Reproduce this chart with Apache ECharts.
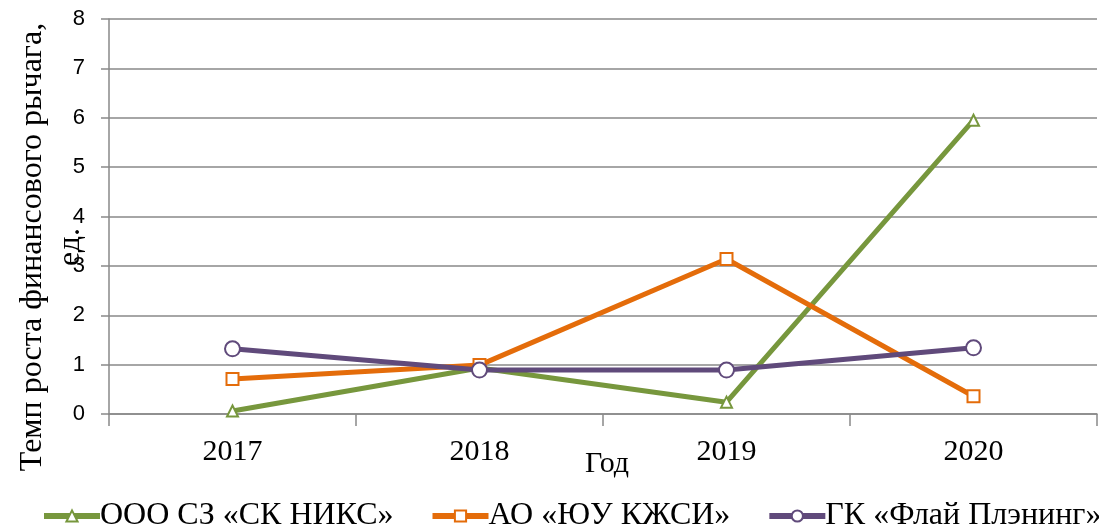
<!DOCTYPE html>
<html>
<head>
<meta charset="utf-8">
<script src="https://cdn.jsdelivr.net/npm/echarts@6/dist/echarts.min.js"></script>
<style>html,body{margin:0;padding:0;background:#fff}#c{width:1099px;height:529px}</style>
</head>
<body>
<div id="c"></div>
<script>
const years = ['2017', '2018', '2019', '2020'];
const seriesNames = ['ООО СЗ «СК НИКС»', 'АО «ЮУ КЖСИ»', 'ГК «Флай Плэнинг»'];
const niksValues = [0.06, 0.93, 0.24, 5.95];
const kzhsiValues = [0.71, 0.99, 3.14, 0.36];
const flyValues = [1.32, 0.89, 0.89, 1.34];
const yTicks = [0, 1, 2, 3, 4, 5, 6, 7, 8];
const yAxisTitle = 'Темп роста финансового рычага,\nед.';
const xAxisTitle = 'Год';

const serif = '"Liberation Serif", "Times New Roman", serif';
const sans = '"Liberation Sans", "Open Sans", sans-serif';
const colors = ['#77973D', '#E46C0A', '#604A7B'];
const symbols = ['triangle', 'rect', 'circle'];
const symbolSizes = [11, 12, 15];
const dataSets = [niksValues, kzhsiValues, flyValues];

const chart = echarts.init(document.getElementById('c'));
chart.setOption({
  animation: false,
  grid: { left: 109, right: 2, top: 19, bottom: 115, containLabel: false, outerBoundsMode: 'none' },
  graphic: [{
    type: 'text',
    x: 52,
    y: 247,
    rotation: Math.PI / 2,
    style: {
      text: yAxisTitle,
      fontFamily: serif,
      fontSize: 32,
      lineHeight: 38,
      fill: '#000',
      align: 'center',
      verticalAlign: 'middle'
    }
  }],
  legend: {
    top: 500,
    left: 41,
    width: 1400,
    padding: 0,
    itemWidth: 56,
    itemHeight: 14,
    itemGap: 36,
    lineStyle: { width: 6 },
    textStyle: { fontFamily: serif, fontSize: 32, color: '#000', padding: [0, 0, 0, -5] },
    data: seriesNames
  },
  xAxis: {
    type: 'category',
    data: years,
    boundaryGap: true,
    name: xAxisTitle,
    nameLocation: 'middle',
    nameGap: 35,
    nameMoveOverlap: false,
    nameTextStyle: { fontFamily: serif, fontSize: 30, color: '#000', padding: [0, 0, 0, 8] },
    axisLine: { lineStyle: { color: '#898989', width: 1.5 } },
    axisTick: { show: true, length: 12, lineStyle: { color: '#898989', width: 1.5 } },
    axisLabel: { fontFamily: serif, fontSize: 30, color: '#000', margin: 23 },
    splitLine: { show: false }
  },
  yAxis: {
    type: 'value',
    min: 0,
    max: 8,
    interval: 1,
    axisLine: { show: true, lineStyle: { color: '#898989', width: 1.5 } },
    axisTick: { show: true, length: 8, lineStyle: { color: '#898989', width: 1.5 } },
    axisLabel: { fontFamily: sans, fontSize: 22, color: '#000', margin: 24,
      formatter: v => yTicks.includes(v) ? String(v) : '' },
    splitLine: { show: true, lineStyle: { color: '#898989', width: 1.5 } }
  },
  series: seriesNames.map((n, i) => ({
    name: n,
    type: 'line',
    data: dataSets[i],
    symbol: symbols[i],
    symbolSize: symbolSizes[i],
    showAllSymbol: true,
    lineStyle: { color: colors[i], width: 5 },
    itemStyle: { color: '#fff', borderColor: colors[i], borderWidth: 2 },
    emphasis: { disabled: true },
    z: 2 + i
  }))
});
</script>
</body>
</html>
